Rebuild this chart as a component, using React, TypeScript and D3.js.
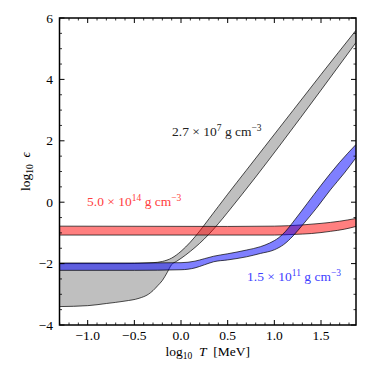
import React from 'react';
import * as d3 from 'd3';

const width = 374;
const height = 374;
const margin = { top: 18, right: 18, bottom: 49, left: 59.5 };

// log10 T [MeV] and log10 eps
const grayUpperT = [-1.302, -0.6, -0.3, -0.2, -0.1, 0.0, 0.1, 0.2, 0.3, 0.4, 0.5, 0.7, 0.9, 1.2, 1.5, 1.875];
const grayUpperE = [-2.0, -2.0, -1.97, -1.93, -1.82, -1.6, -1.3, -0.94, -0.54, -0.14, 0.26, 1.04, 1.82, 2.99, 4.16, 5.6];
const grayLowerT = [-1.302, -1.0, -0.8, -0.6, -0.45, -0.35, -0.3, -0.25, -0.2, -0.15, -0.1, -0.05, 0.0, 0.1, 0.2, 0.3, 0.4, 0.5, 0.65, 0.8, 1.061, 1.5, 1.875];
const grayLowerE = [-3.4, -3.37, -3.3, -3.22, -3.13, -3.0, -2.88, -2.72, -2.55, -2.3, -2.03, -1.93, -1.83, -1.6, -1.34, -1.04, -0.7, -0.33, 0.24, 0.82, 1.86, 3.65, 5.2];

const redUpperT = [-1.302, 0.5, 1.0, 1.3, 1.5, 1.7, 1.875];
const redUpperE = [-0.78, -0.79, -0.78, -0.74, -0.69, -0.62, -0.53];
const redLowerT = [-1.302, 1.0, 1.2, 1.4, 1.6, 1.75, 1.875];
const redLowerE = [-1.07, -1.07, -1.05, -1.02, -0.95, -0.88, -0.79];

const blueUpperT = [-1.302, -0.5, 0.0, 0.15, 0.25, 0.35, 0.5, 0.7, 0.85, 0.95, 1.05, 1.12, 1.2, 1.35, 1.5, 1.7, 1.875];
const blueUpperE = [-1.98, -1.98, -1.97, -1.92, -1.84, -1.76, -1.68, -1.56, -1.45, -1.33, -1.15, -0.95, -0.65, -0.05, 0.55, 1.3, 1.88];
const blueLowerT = [-1.302, -0.5, 0.0, 0.15, 0.25, 0.35, 0.5, 0.7, 0.85, 1.0, 1.1, 1.2, 1.3, 1.45, 1.6, 1.75, 1.875];
const blueLowerE = [-2.22, -2.22, -2.2, -2.14, -2.04, -1.94, -1.88, -1.78, -1.67, -1.55, -1.38, -1.1, -0.75, -0.2, 0.4, 0.95, 1.45];

const xTicks = [-1.0, -0.5, 0.0, 0.5, 1.0, 1.5];
const yTicks = [-4, -2, 0, 2, 4, 6];

const x = d3.scaleLinear().domain([-1.302, 1.875]).range([margin.left, width - margin.right]);
const y = d3.scaleLinear().domain([-4, 6]).range([height - margin.bottom, margin.top]);

const line = d3.line<number[]>().x(d => x(d[0])).y(d => y(d[1])).curve(d3.curveMonotoneX);

function band(ut: number[], ue: number[], lt: number[], le: number[]) {
  const up = ut.map((t, i) => [t, ue[i]]);
  const lo = lt.map((t, i) => [t, le[i]]);
  const upPath = line(up) || '';
  const loPath = line(lo) || '';
  const loRev = line(lo.slice().reverse()) || '';
  return { fill: upPath + 'L' + loRev.slice(1) + 'Z', up: upPath, lo: loPath };
}

const bands = [
  { ...band(grayUpperT, grayUpperE, grayLowerT, grayLowerE), color: '#808080' },
  { ...band(redUpperT, redUpperE, redLowerT, redLowerE), color: '#ff0000' },
  { ...band(blueUpperT, blueUpperE, blueLowerT, blueLowerE), color: '#0000ff' },
];

const serif = { fontFamily: "'Liberation Serif', 'DejaVu Serif', serif" };
const fs = 13.5;

function Label({ px, py, color, mant, exp }: { px: number; py: number; color: string; mant: string; exp: string }) {
  return (
    <text x={px} y={py} fill={color} fontSize={fs} style={serif}>
      {mant} × 10
      <tspan dy={-5} fontSize={9.5}>{exp}</tspan>
      <tspan dy={5}> g cm</tspan>
      <tspan dy={-5} fontSize={9.5}>−3</tspan>
    </text>
  );
}

export default function App() {
  const x0 = margin.left;
  const x1 = width - margin.right;
  const y0 = margin.top;
  const y1 = height - margin.bottom;
  const xMinor = d3.range(-13, 19).map(i => i / 10).filter(v => v >= -1.302 && v <= 1.875 && Math.abs(v * 2 - Math.round(v * 2)) > 1e-6);
  const yMinor = d3.range(-4, 6.01, 0.5).filter(v => Math.abs(v / 2 - Math.round(v / 2)) > 1e-6);
  const fmt = (v: number) => (v < 0 ? '−' : '') + Math.abs(v).toFixed(1);
  return (
    <svg width={width} height={height} style={{ position: 'absolute', left: 0, top: 0, background: '#fff' }}>
      <defs>
        <clipPath id="plot">
          <rect x={x0} y={y0} width={x1 - x0} height={y1 - y0} />
        </clipPath>
      </defs>
      <g clipPath="url(#plot)">
        {bands.map((b, i) => (
          <g key={i}>
            <path d={b.fill} fill={b.color} fillOpacity={0.5} stroke="none" />
            <path d={b.up} fill="none" stroke="#000" strokeWidth={0.7} />
            <path d={b.lo} fill="none" stroke="#000" strokeWidth={0.7} />
          </g>
        ))}
      </g>
      {xTicks.map(v => (
        <g key={'xt' + v}>
          <line x1={x(v)} x2={x(v)} y1={y1} y2={y1 - 5} stroke="#000" />
          <line x1={x(v)} x2={x(v)} y1={y0} y2={y0 + 5} stroke="#000" />
          <text x={x(v)} y={339.5} textAnchor="middle" fontSize={fs} style={serif}>{fmt(v)}</text>
        </g>
      ))}
      {xMinor.map(v => (
        <g key={'xm' + v}>
          <line x1={x(v)} x2={x(v)} y1={y1} y2={y1 - 2.5} stroke="#000" strokeWidth={0.8} />
          <line x1={x(v)} x2={x(v)} y1={y0} y2={y0 + 2.5} stroke="#000" strokeWidth={0.8} />
        </g>
      ))}
      {yTicks.map(v => (
        <g key={'yt' + v}>
          <line x1={x0} x2={x0 + 5} y1={y(v)} y2={y(v)} stroke="#000" />
          <line x1={x1} x2={x1 - 5} y1={y(v)} y2={y(v)} stroke="#000" />
          <text x={53} y={y(v) + 4.5} textAnchor="end" fontSize={fs} style={serif}>{(v < 0 ? '−' : '') + Math.abs(v)}</text>
        </g>
      ))}
      {yMinor.map(v => (
        <g key={'ym' + v}>
          <line x1={x0} x2={x0 + 2.5} y1={y(v)} y2={y(v)} stroke="#000" strokeWidth={0.8} />
          <line x1={x1} x2={x1 - 2.5} y1={y(v)} y2={y(v)} stroke="#000" strokeWidth={0.8} />
        </g>
      ))}
      <rect x={x0} y={y0} width={x1 - x0} height={y1 - y0} fill="none" stroke="#000" strokeWidth={1.5} />
      <Label px={172} py={136} color="#222" mant="2.7" exp="7" />
      <Label px={87} py={206} color="#ff4040" mant="5.0" exp="14" />
      <Label px={247} py={281} color="#4040ff" mant="1.5" exp="11" />
      <text x={(x0 + x1) / 2} y={356} textAnchor="middle" fontSize={fs} style={serif}>
        log<tspan dy={3} fontSize={9.5}>10</tspan>
        <tspan dy={-3} fontStyle="italic">{'\u2002'}T</tspan>{'\u2002'}[MeV]
      </text>
      <text transform={`translate(30,${(y0 + y1) / 2}) rotate(-90)`} textAnchor="middle" fontSize={fs} style={serif}>
        log<tspan dy={3} fontSize={9.5}>10</tspan>
        <tspan dy={-3} fontStyle="italic">{'\u2002'}ϵ</tspan>
      </text>
    </svg>
  );
}
